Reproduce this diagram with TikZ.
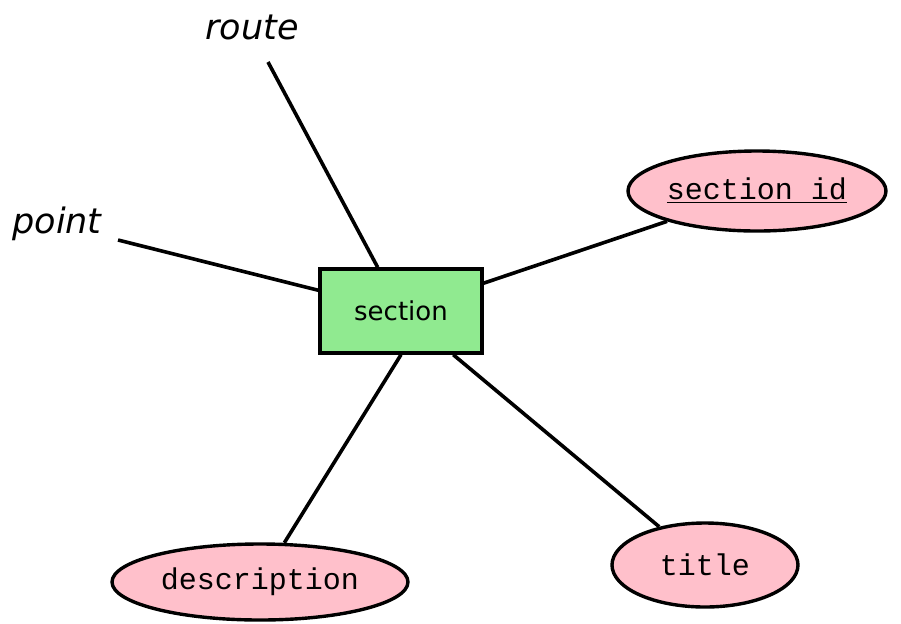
\documentclass[tikz,border=0pt]{standalone}
\usepackage{fontspec}
\setmainfont{DejaVu Sans}
\setmonofont{Liberation Mono}
\usetikzlibrary{shapes.geometric}
\definecolor{entgreen}{RGB}{144,234,144}
\definecolor{attpink}{RGB}{255,192,203}
\tikzset{
  entity/.style={draw, line width=1.7pt, fill=entgreen, minimum width=81pt, minimum height=42pt, inner sep=0pt, font=\fontsize{13}{15}\selectfont},
  attrib/.style={ellipse, draw, line width=1.7pt, fill=attpink, inner sep=0pt, font=\ttfamily\fontsize{15}{17}\selectfont},
  role/.style={font=\itshape\fontsize{17.5}{20}\selectfont},
  link/.style={line width=1.8pt}
}

\begin{document}
\begin{tikzpicture}[x=0.5pt, y=-0.5pt]
    \useasboundingbox (0,0) rectangle (901,623);

    \node [entity] (section) at (401, 311) {section};
    \node [attrib, minimum width=129pt, minimum height=40pt] (sectionid) at (757, 191) {\underline{section id}};
    \node [attrib, minimum width=148pt, minimum height=38pt] (description) at (260, 582) {description};
    \node [attrib, minimum width=93pt, minimum height=42pt] (title) at (705, 565) {title};
    \node [role] (route) at (252, 27) {route};
    \node [role] (point) at (57, 224) {point};
    \coordinate (routeend) at (268, 62);
    \coordinate (pointend) at (118, 240);

    \draw [link] (routeend) -- (section);
    \draw [link] (pointend) -- (section);
    \draw [link] (section) -- (sectionid);
    \draw [link] (section.south) -- (description);
    \draw [link] (section) -- (title);
\end{tikzpicture}
\end{document}
